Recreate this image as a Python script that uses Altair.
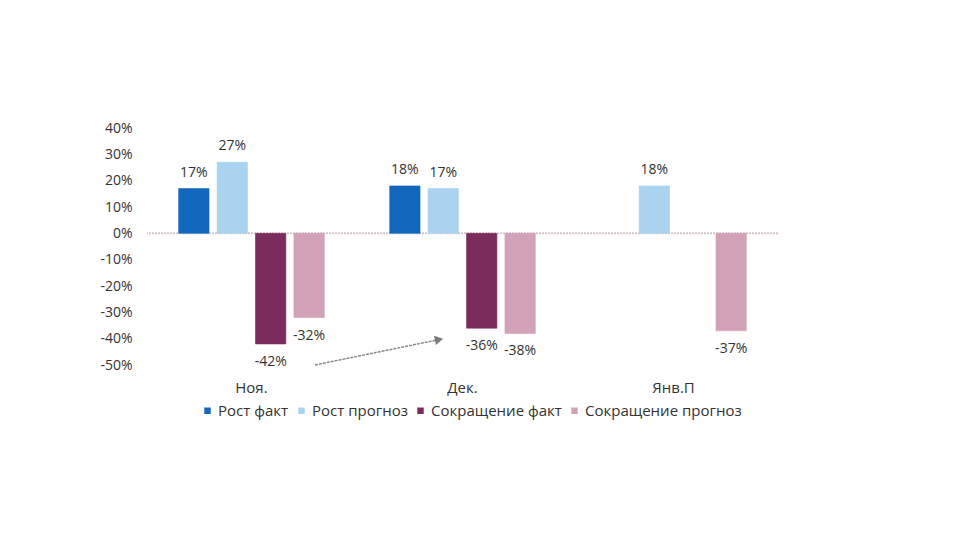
import altair as alt
import pandas as pd

categories = ["Ноя.", "Дек.", "Янв.П"]
series = ["Рост факт", "Рост прогноз", "Сокращение факт", "Сокращение прогноз"]
rost_fakt = [17, 18, None]
rost_prognoz = [27, 17, 18]
sokr_fakt = [-42, -36, None]
sokr_prognoz = [-32, -38, -37]
colors = ["#1268BD", "#A9D3EF", "#7B2B5C", "#D2A2B8"]
y_ticks = [0.4, 0.3, 0.2, 0.1, 0.0, -0.1, -0.2, -0.3, -0.4, -0.5]

rows = []
for s, vals in zip(series, [rost_fakt, rost_prognoz, sokr_fakt, sokr_prognoz]):
    for c, v in zip(categories, vals):
        if v is not None:
            rows.append({"cat": c, "series": s, "value": v / 100.0, "label": f"{v}%"})
df = pd.DataFrame(rows)

FONT = "Open Sans"
TXT = "#333333"

x_enc = alt.X("cat:N", sort=categories,
              scale=alt.Scale(domain=categories, paddingInner=0.31, paddingOuter=0.15),
              axis=alt.Axis(title=None, domain=False, ticks=False, labelAngle=0,
                            labelPadding=15, labelFontSize=15, labelColor=TXT,
                            labelFont=FONT))
xoff = alt.XOffset("series:N", sort=series,
                   scale=alt.Scale(domain=series, paddingInner=0.21, paddingOuter=0.0))
y_scale = alt.Scale(domain=[-0.5, 0.4], nice=False, zero=False)
y_axis = alt.Axis(title=None, values=y_ticks, domain=False,
                  labelExpr="round(datum.value * 100) + '%'",
                  labelOverlap=False,
                  ticks=False, grid=False, labelPadding=15,
                  labelFontSize=14, labelColor=TXT, labelFont=FONT)

base = alt.Chart(df)

bars = base.mark_bar(strokeWidth=1, strokeOpacity=0.6).encode(
    x=x_enc,
    xOffset=xoff,
    y=alt.Y("value:Q", scale=y_scale, axis=y_axis),
    color=alt.Color("series:N", sort=series,
                    scale=alt.Scale(domain=series, range=colors),
                    legend=alt.Legend(title=None, orient="none", direction="horizontal",
                                      legendX=53, legendY=275,
                                      symbolType="square", symbolSize=42,
                                      symbolStrokeWidth=0, labelFontSize=15,
                                      labelFont=FONT, labelColor=TXT,
                                      labelOffset=3, columnPadding=5)),
    stroke=alt.Stroke("series:N", sort=series,
                      scale=alt.Scale(domain=series, range=colors), legend=None),
)

pos_labels = base.transform_filter("datum.value >= 0").mark_text(
    baseline="bottom", dy=-9, fontSize=14, font=FONT, color=TXT
).encode(x=x_enc, xOffset=xoff, y=alt.Y("value:Q", scale=y_scale, axis=y_axis),
         text="label:N")

neg_labels = base.transform_filter("datum.value < 0").mark_text(
    baseline="top", dy=11, fontSize=14, font=FONT, color=TXT
).encode(x=x_enc, xOffset=xoff, y=alt.Y("value:Q", scale=y_scale, axis=y_axis),
         text="label:N")

zero_df = pd.DataFrame({"value": [0.0]})
zero_line = alt.Chart(zero_df).mark_rule(color="#D8C6CE", strokeWidth=2,
                                         strokeDash=[2, 1]).encode(
    y=alt.Y("value:Q", scale=y_scale, axis=y_axis))

arrow_line = alt.Chart(zero_df).mark_rule(color="#8A8A8A", strokeWidth=1.5,
                                          strokeDash=[3, 1]).encode(
    x=alt.value(168), x2=alt.value(290), y=alt.value(237), y2=alt.value(212))
arrow_head = alt.Chart(zero_df).mark_point(shape="triangle-right", filled=True,
                                           color="#7A7A7A", size=90, opacity=1,
                                           angle=348).encode(
    x=alt.value(292), y=alt.value(211.5))

chart = alt.layer(zero_line, bars, pos_labels, neg_labels, arrow_line, arrow_head).properties(
    width=631, height=237,
    background="white",
    autosize=alt.AutoSizeParams(type="none"),
    padding={"left": 147, "top": 128, "right": 190, "bottom": 179},
).configure_view(stroke=None).configure_axisY(labelOverlap=False)

chart.save("out.html", embed_options={"renderer": "svg", "actions": False})
